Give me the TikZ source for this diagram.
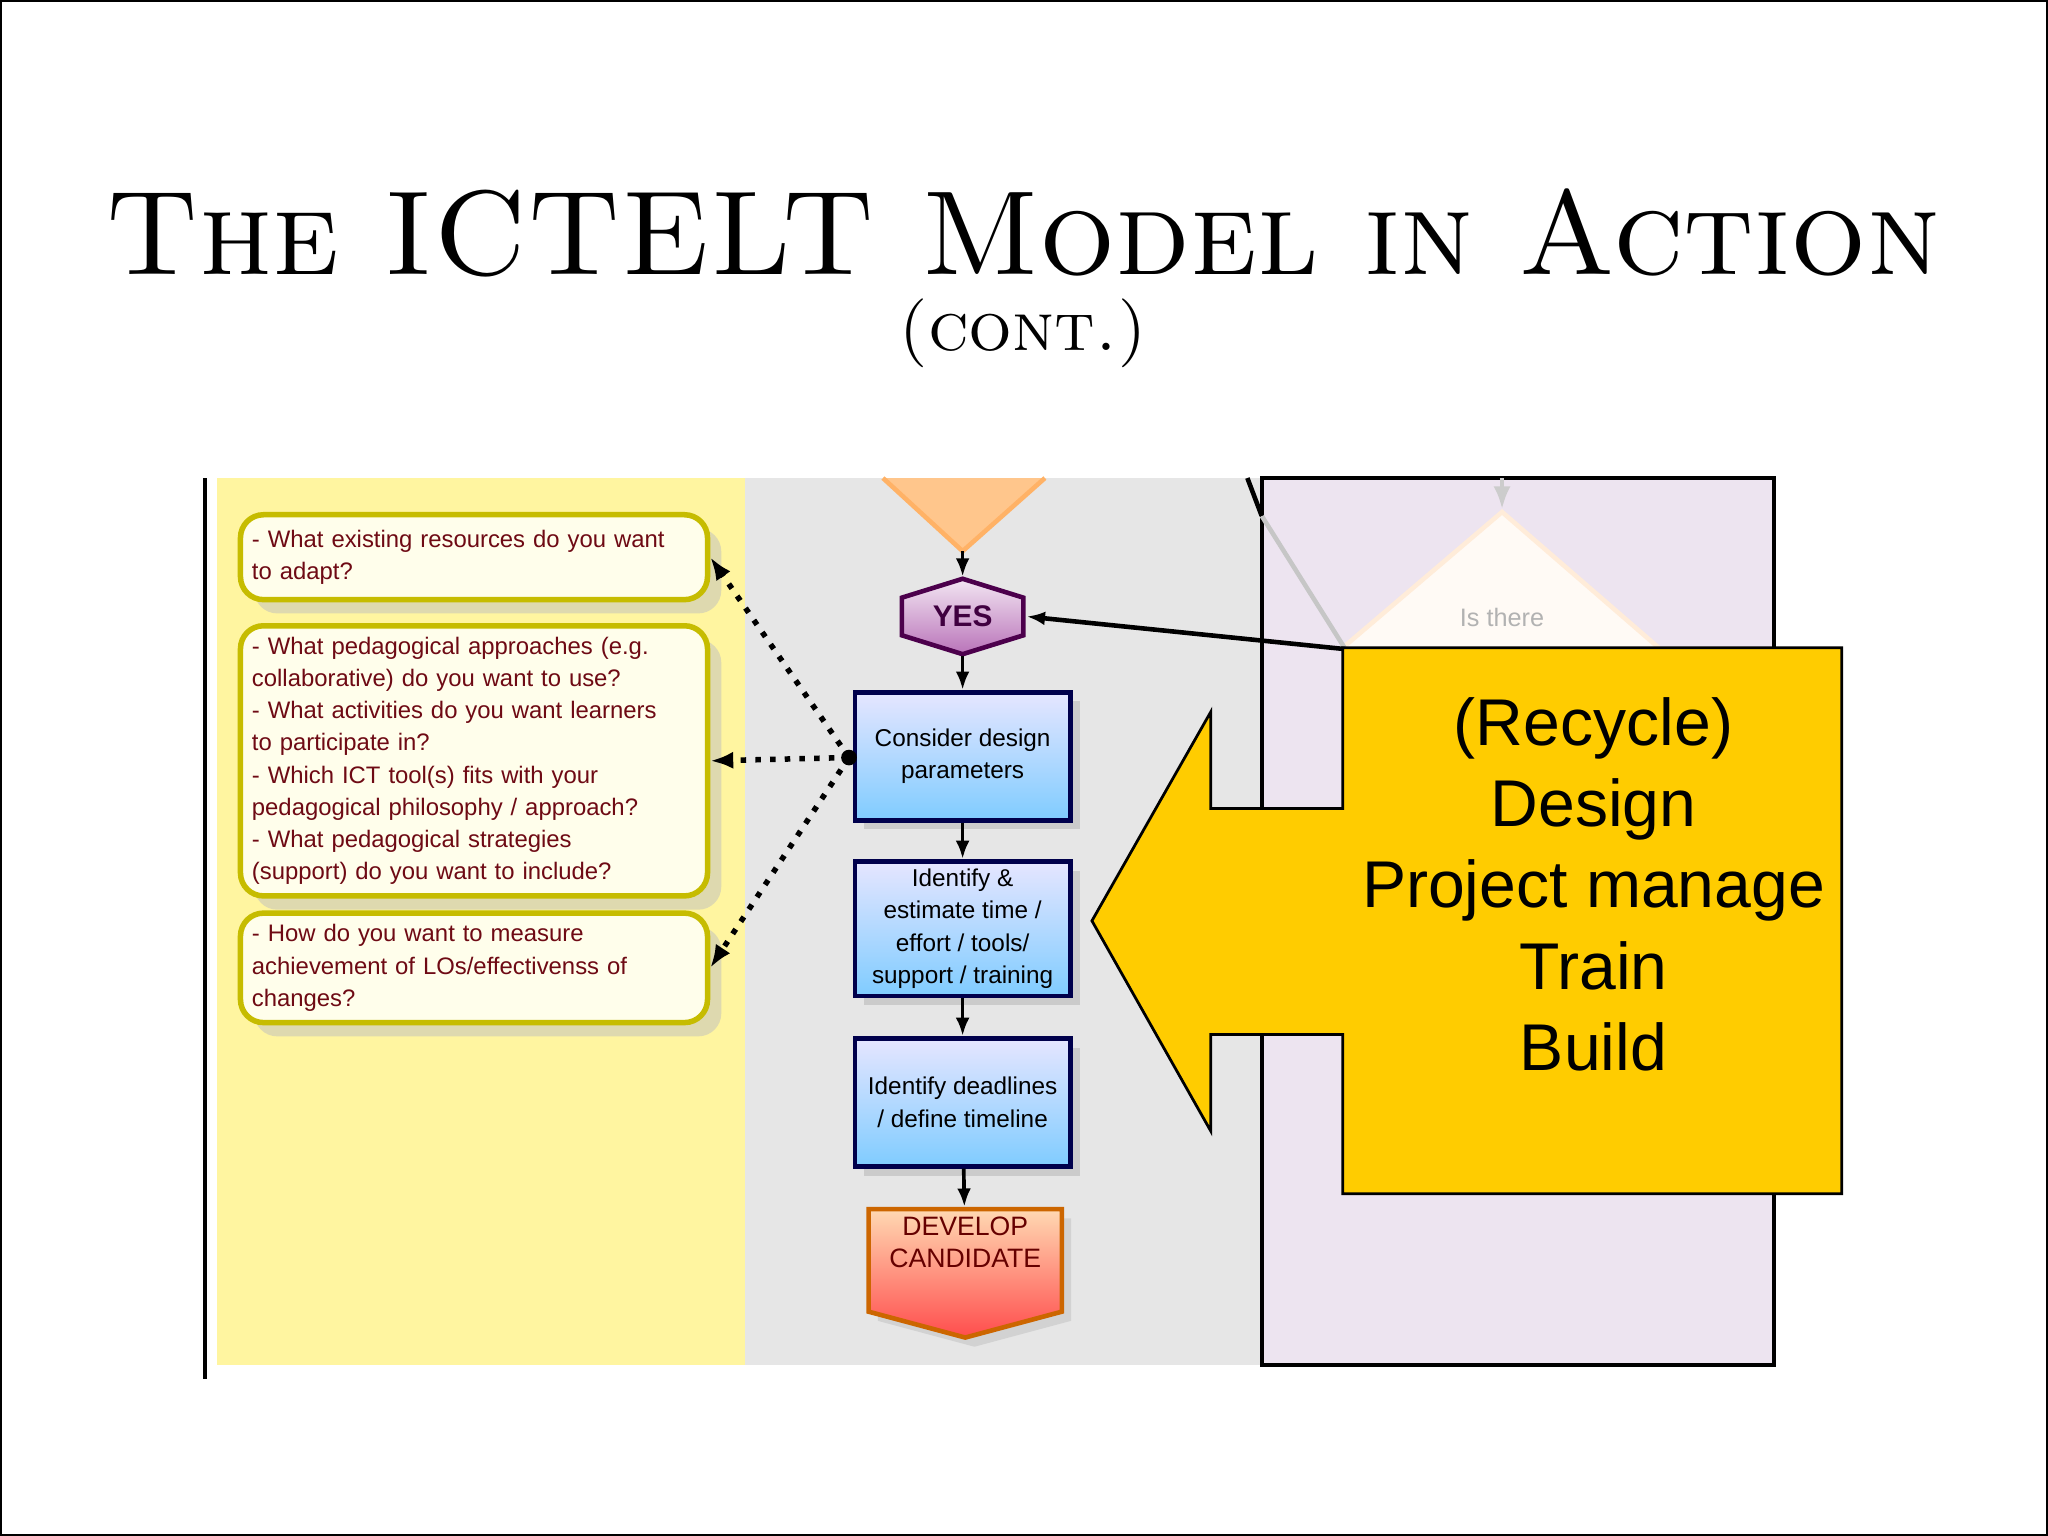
\documentclass[tikz,border=0pt]{standalone}
\usepackage{fontspec}
\setsansfont{Liberation Sans}
\usetikzlibrary{shapes.geometric,shapes.symbols,arrows.meta,positioning,shadows}
\definecolor{paneyellow}{RGB}{255,245,160}
\definecolor{panegray}{RGB}{230,230,230}
\definecolor{panelilac}{RGB}{237,228,240}
\definecolor{qtext}{RGB}{110,10,20}
\definecolor{callout}{RGB}{255,204,0}
\tikzset{
  qbox/.style={draw=yellow!50!olive,line width=1.2pt,rounded corners=5pt,fill=yellow!8,
    drop shadow={shadow xshift=3pt,shadow yshift=-3pt,fill=gray!50},text width=3.4cm,
    text=qtext,font=\sffamily\fontsize{5.2}{7}\selectfont,align=left,anchor=north west,inner sep=2.5pt},
  stepbox/.style={draw=blue!30!black,line width=1pt,top color=blue!10,bottom color=blue!40!cyan!50,
    drop shadow={shadow xshift=2pt,shadow yshift=-2pt,fill=gray!60},
    minimum width=1.65cm,minimum height=0.98cm,font=\sffamily\fontsize{5.3}{7}\selectfont,align=center,inner sep=1pt},
  flow/.style={-{Latex[length=4pt]},line width=0.8pt},
  hint/.style={-{Latex[length=5pt]},dotted,line width=1.2pt}
}
\begin{document}
\begin{tikzpicture}
\useasboundingbox (0,0) rectangle (15.68,-11.76);
\draw[line width=0.5pt] (0.01,-0.01) rectangle (15.67,-11.75);
% title
\node[inner sep=0pt] (title) at (7.83,-1.78) {\resizebox{14.05cm}{!}{\textsc{The ICTELT Model in Action}}};
\node[font=\fontsize{15}{15}\selectfont] (cont) at (7.83,-2.55) {\textsc{(cont.)}};
% panes
\fill[paneyellow] (1.66,-3.66) rectangle (5.70,-10.45);
\fill[panegray] (5.70,-3.66) rectangle (9.66,-10.45);
\draw[fill=panelilac,line width=0.8pt] (9.66,-3.66) rectangle (13.58,-10.45);
\draw[line width=0.8pt] (1.57,-3.66) -- (1.57,-10.56);
% faded flow in lilac pane
\draw[gray!40,-{Latex[length=5pt]},line width=1pt] (11.50,-3.66) -- (11.50,-3.90);
\draw[orange!15,fill=orange!4,line width=1pt] (10.28,-4.96) -- (11.50,-3.92) -- (12.70,-4.96);
\node[gray!60,font=\sffamily\fontsize{5.5}{7}\selectfont] (isthere) at (11.50,-4.73) {Is there};
\draw[gray!45,line width=1pt] (9.66,-3.95) -- (10.30,-4.97);
\draw[line width=1pt] (9.55,-3.66) -- (9.66,-3.95);
% decision top
\coordinate (tri) at (7.37,-4.22);
\draw[orange!60,fill=orange!45,line width=1pt] (6.76,-3.66) -- (tri) -- (8.00,-3.66);
\node[regular polygon,regular polygon sides=6,shape border rotate=90,draw=violet!60!black,line width=1pt,
  top color=violet!10,bottom color=violet!55,minimum size=0.74cm,
  xscale=1.45,yscale=0.78,inner sep=0pt] (yes) at (7.37,-4.72) {};
\node[font=\sffamily\bfseries\fontsize{6.5}{7}\selectfont,text=violet!50!black] at (yes) {YES};
\node[stepbox] (consider) at (7.37,-5.79) {Consider design\\parameters};
\node[stepbox,minimum height=1.03cm] (estimate) at (7.37,-7.11) {Identify \&\\estimate time /\\effort / tools/\\support / training};
\node[stepbox] (deadline) at (7.37,-8.44) {Identify deadlines\\/ define timeline};
\node[signal,signal to=south,signal pointer angle=150,draw=orange!80!black,line width=1pt,
  top color=orange!30,bottom color=red!70,minimum width=1.48cm,minimum height=0.95cm,
  font=\sffamily\fontsize{5.8}{7}\selectfont,text=red!40!black,align=center,inner sep=1pt,
  drop shadow={shadow xshift=2pt,shadow yshift=-2pt,fill=gray!50}] (develop) at (7.39,-9.65) {DEVELOP\\CANDIDATE\\[1pt]};
\draw[flow] (tri) -- (yes);
\draw[flow] (yes) -- (consider);
\draw[flow] (consider) -- (estimate);
\draw[flow] (estimate) -- (deadline);
\draw[flow] (deadline) -- (develop);
\coordinate (loop) at (10.30,-4.97);
\draw[flow,line width=1pt] (loop) -- (yes.east);
% questions
\node[qbox,minimum height=0.65cm] (adapt) at (1.82,-3.92)
  {- What existing resources do you want\\to adapt?};
\node[qbox,minimum height=2.03cm] (pedagogy) at (1.82,-4.77)
  {- What pedagogical approaches (e.g.\\collaborative) do you want to use?\\- What activities do you want learners\\to participate in?\\- Which ICT tool(s) fits with your\\pedagogical philosophy / approach?\\- What pedagogical strategies\\(support) do you want to include?};
\node[qbox,minimum height=0.73cm] (measure) at (1.82,-6.97)
  {- How do you want to measure\\achievement of LOs/effectivenss of\\changes?};
\coordinate (hub) at (6.50,-5.80);
\fill (hub) circle (0.06);
\draw[hint] (hub) -- (adapt.east);
\draw[hint] (hub) -- (pedagogy.east);
\draw[hint] (hub) -- (measure.east);
% callout
\draw[fill=callout,line width=0.6pt] (10.28,-4.96) -- (14.10,-4.96) -- (14.10,-9.14) -- (10.28,-9.14)
  -- (10.28,-7.92) -- (9.27,-7.92) -- (9.27,-8.66) -- (8.36,-7.05) -- (9.27,-5.45) -- (9.27,-6.19)
  -- (10.28,-6.19) -- cycle;
\node[font=\sffamily\fontsize{14.4}{17.7}\selectfont,align=center] (recycle) at (12.20,-6.77)
  {(Recycle)\\Design\\Project manage\\Train\\Build};
\end{tikzpicture}
\end{document}
